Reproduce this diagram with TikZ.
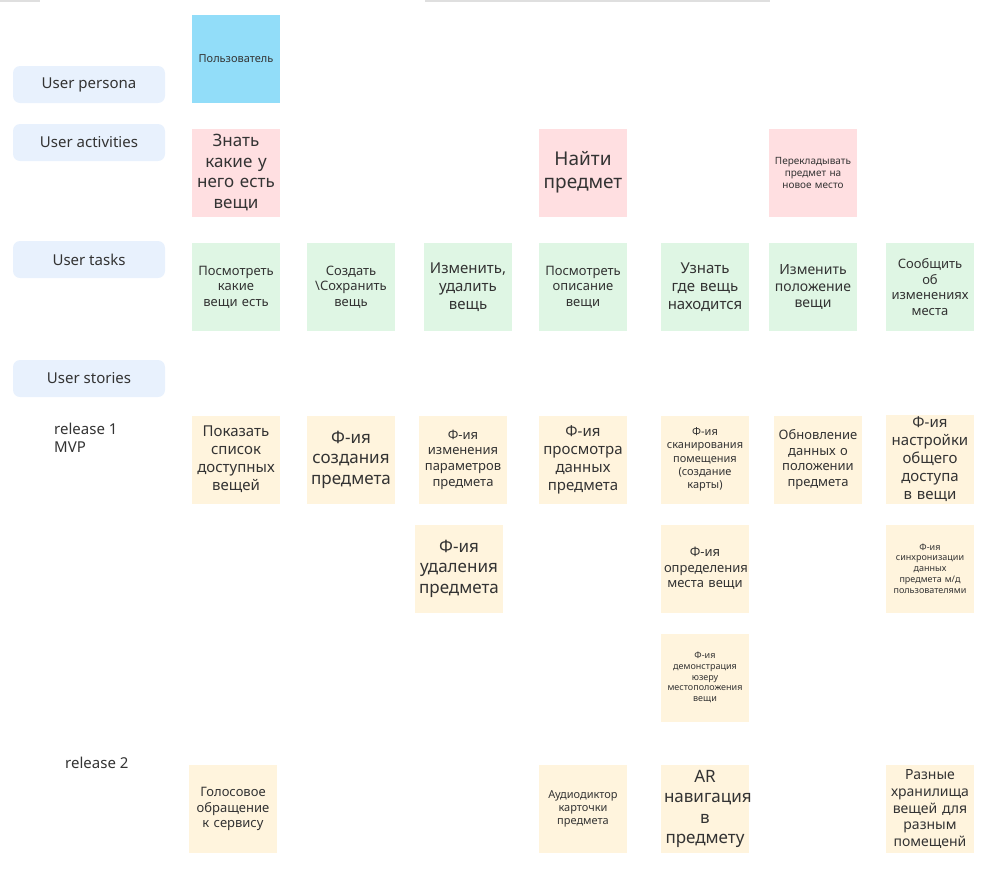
\documentclass[tikz,border=0pt]{standalone}
\usepackage{fontspec}
\setmainfont{Noto Sans}
\definecolor{cblue}{HTML}{92DDF9}
\definecolor{cpink}{HTML}{FFDFE1}
\definecolor{cgreen}{HTML}{DFF6E4}
\definecolor{cyel}{HTML}{FFF4DD}
\definecolor{clab}{HTML}{E8F1FD}
\definecolor{ctxt}{HTML}{333333}
\begin{document}
\begin{tikzpicture}[x=1pt,y=-1pt,
 sticky/.style={minimum width=88pt,minimum height=88pt,inner sep=2pt,align=center,text width=82pt,text=ctxt,font=\fontsize{#1}{1.2\dimexpr#1pt\relax}\selectfont},
 pers/.style={sticky=#1,fill=cblue},
 act/.style={sticky=#1,fill=cpink},
 task/.style={sticky=#1,fill=cgreen},
 story/.style={sticky=#1,fill=cyel},
 lab/.style={fill=clab,rounded corners=7pt,minimum width=152pt,minimum height=37pt,text=ctxt,font=\fontsize{15}{18}\selectfont},
 rel/.style={text=ctxt,align=left,font=\fontsize{15}{18}\selectfont,anchor=north west,inner sep=0pt}]
\useasboundingbox (0,0) rectangle (992,873);
\fill[gray!25] (0,0) rectangle (40,2);
\fill[gray!25] (425,0) rectangle (770,2);
% labels
\node[lab] (lp) at (89,84.5) {User persona};
\node[lab] (la) at (89,142.5) {User activities};
\node[lab] (lt) at (89,259.5) {User tasks};
\node[lab] (ls) at (89,378.5) {User stories};
\node[rel] (r1) at (54,423) {release 1\\MVP};
\node[rel] (r2) at (65,757) {release 2};
% persona
\node[pers=11] (p) at (236,58.5) {Пользователь};
% activities
\node[act=17] (a1) at (236,172.5) {Знать какие у него есть вещи};
\node[act=19] (a2) at (583,172.5) {Найти предмет};
\node[act=10] (a3) at (813,172.5) {Перекладывать предмет на новое место};
% tasks
\node[task=13] (t1) at (236,287) {Посмотреть какие вещи есть};
\node[task=13] (t2) at (351,287) {Создать \textbackslash Сохранить вещь};
\node[task=15] (t3) at (468,287) {Изменить, удалить вещь};
\node[task=13] (t4) at (583,287) {Посмотреть описание вещи};
\node[task=15] (t5) at (705,287) {Узнать где вещь находится};
\node[task=14] (t6) at (813,287) {Изменить положение вещи};
\node[task=13] (t7) at (930,287) {Сообщить об изменениях места};
% release 1
\node[story=15] (s1) at (236,459.5) {Показать список доступных вещей};
\node[story=17] (s2) at (351,459.5) {Ф-ия создания предмета};
\node[story=13] (s3) at (463,459.5) {Ф-ия изменения параметров предмета};
\node[story=15] (s4) at (583,459.5) {Ф-ия просмотра данных предмета};
\node[story=11] (s5) at (705,459.5) {Ф-ия сканирования помещения (создание карты)};
\node[story=13] (s6) at (818,459.5) {Обновление данных о положении предмета};
\node[story=15] (s7) at (930,459.5) {Ф-ия настройки общего доступа в вещи};
\node[story=17] (s8) at (459,568.5) {Ф-ия удаления предмета};
\node[story=13] (s9) at (705,568.5) {Ф-ия определения места вещи};
\node[story=9] (s10) at (930,568.5) {Ф-ия синхронизации данных предмета м/д пользователями};
\node[story=9] (s11) at (705,677.5) {Ф-ия демонстрация юзеру местоположения вещи};
% release 2
\node[story=13] (u1) at (233,809) {Голосовое обращение к сервису};
\node[story=11] (u2) at (583,809) {Аудиодиктор карточки предмета};
\node[story=17] (u3) at (705,809) {AR навигация в предмету};
\node[story=14] (u4) at (930,809) {Разные хранилища вещей для разным помещенй};
\end{tikzpicture}
\end{document}
